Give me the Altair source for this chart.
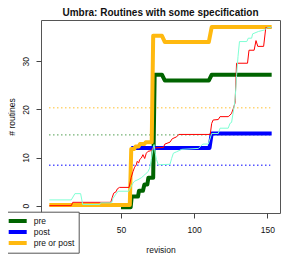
import altair as alt
import pandas as pd

TITLE = "Umbra: Routines with some specification"
SERIES = ["pre", "post", "pre or post"]
COLORS = ["#006400", "#0000FF", "#FFB90F"]

# thick series
pre_x = [50, 56.6, 57.3, 61.6, 62.3, 65, 66, 68, 68.7, 72, 73, 78, 80, 110, 112, 153]
pre_y = [-0.35, -0.35, 1.9, 1.9, 3.1, 3.1, 4.4, 4.4, 5.8, 5.8, 27.2, 27.2, 26, 26, 27.2, 27.2]

post_x = [57, 110.5, 112, 153]
post_y = [12, 12, 15, 15]

both_x = [1, 56, 57, 59, 60, 62, 63, 66, 67, 71, 72, 78, 80, 110, 112, 153]
both_y = [0.15, 0.15, 11.8, 11.8, 12.3, 12.3, 12.8, 12.8, 13.2, 13.2, 35.3, 35.3, 34, 34, 37.1, 37.1]

# thin series
red_x = [1, 16, 17, 43, 44, 45, 46.6, 47.5, 49, 55.5, 57, 58.2, 59.3, 60.5, 61, 62.1, 62.8,
         63.9, 65, 66.2, 67.3, 68.5, 70.3, 72, 79, 80, 83.5, 85, 88, 89.5, 111, 112, 113,
         116.5, 117.7, 123.3, 124.5, 125.6, 126.8, 128, 129, 136.5, 137.5, 141, 142.3,
         143.5, 147.5, 149, 153]
red_y = [0, 0, 0.7, 0.7, 1.7, 2.6, 2.9, 3.5, 3.8, 3.8, 5.9, 7.1, 8.0, 8.5, 9.2, 8.9, 9.6,
         9.9, 10.6, 9.8, 10.9, 11.3, 11.4, 12.0, 12.1, 12.8, 13.2, 13.9, 14.3, 14.8, 14.8, 17.1, 17.8,
         17.9, 18.5, 18.5, 18.8, 19.2, 20.2, 21.4, 29.6, 29.6, 32.3, 32.3, 34.3,
         33.1, 33.1, 37, 37]

aqua_x = [1, 16, 18.5, 22.4, 23.8, 35.5, 36, 43.6, 44.5, 46.5, 48, 55.3, 57, 58.2, 59.3,
          61.6, 63.9, 66.2, 68.5, 69.6, 70.7, 72, 72.6, 73.4, 74.2, 75.5, 83.5, 84.6, 85.8,
          88, 91.5, 103, 104.5, 106, 109.7, 112, 116.5, 117.7, 123.3, 124.5, 125.6, 126.5,
          128, 129, 130, 131, 136, 137, 139.3, 140, 144, 148, 150, 153]
aqua_y = [1.2, 1.2, 2.5, 2.5, 0.25, 0.25, 0.6, 0.6, 1.5, 2.4, 3.0, 3.0, 4.0, 4.7, 5.1,
          5.4, 5.8, 6.4, 7.1, 7.8, 9.6, 12.0, 12.7, 10.9, 9.6, 8.5, 8.6, 9.8, 10.9,
          11.2, 11.7, 11.9, 12.4, 12.8, 12.8, 15, 15, 16.1, 16.1, 17.1, 17.3, 19,
          22, 27, 31, 34.1, 34.1, 34.8, 34.8, 35.7, 36.2, 36.5, 37, 37]

# dotted reference levels
mean_levels = [14.7, 8.4, 20.35]
mean_colors = ["#2e8b2e", "#0000FF", "#FFC030"]
mean_start = [1, 1, 1]
mean_end = [152, 152, 152]

x_ticks = [50, 100, 150]
y_ticks = [0, 10, 20, 30]


def frame(name, xs, ys):
    return pd.DataFrame({"revision": xs, "routines": ys, "series": name})


xscale = alt.Scale(domain=[-4.7, 158.7], nice=False, zero=False)
yscale = alt.Scale(domain=[-1.52, 38.58], nice=False, zero=False)
cscale = alt.Scale(domain=SERIES, range=COLORS)

FONT = "Liberation Sans"

x_axis = alt.Axis(values=x_ticks, tickSize=5, labelPadding=7, labelFontSize=8.5,
                  labelFont=FONT, domain=False, grid=False, title="revision",
                  titleFontSize=8.5, titleFont=FONT, titleFontWeight="normal",
                  titleX=119.5, titleY=39.7, titleBaseline="alphabetic", titleAlign="center",
                  tickColor="#444", labelColor="#111", titleColor="#111")
y_axis = alt.Axis(values=y_ticks, tickSize=5, labelPadding=7.2, labelFontSize=8.5,
                  labelFont=FONT, domain=False, grid=False, labelAngle=270,
                  labelAlign="center", labelBaseline="alphabetic", title="# routines",
                  titleFontSize=8.5, titleFont=FONT, titleFontWeight="normal",
                  titleAngle=270, titleX=-26.7, titleY=96.5, titleAlign="center",
                  titleBaseline="alphabetic", tickColor="#444", labelColor="#111",
                  titleColor="#111")

X = alt.X("revision:Q", scale=xscale, axis=x_axis, title="revision")
Y = alt.Y("routines:Q", scale=yscale, axis=y_axis, title="# routines")

legend = alt.Legend(orient="none", legendX=-38.3, legendY=191.7, direction="vertical",
                    title=None, fillColor="white", strokeColor="#555", padding=4,
                    symbolType="stroke", symbolSize=324, symbolStrokeWidth=4,
                    labelFontSize=8.5, labelFont=FONT, labelColor="#111",
                    labelOffset=5, rowPadding=0, clipHeight=10.5)

means = pd.DataFrame({"series": SERIES, "level": mean_levels, "start": mean_start,
                      "end": mean_end, "col": mean_colors})

rules = alt.Chart(means).mark_rule(strokeDash=[1, 3], strokeWidth=1.3).encode(
    x=alt.X("start:Q", scale=xscale, axis=x_axis, title="revision"),
    x2="end:Q",
    y=alt.Y("level:Q", scale=yscale, axis=y_axis, title="# routines"),
    color=alt.Color("col:N", scale=None),
)


def thick(name, xs, ys):
    return alt.Chart(frame(name, xs, ys)).mark_line(strokeWidth=4, strokeJoin="round").encode(
        x=X, y=Y, color=alt.Color("series:N", scale=cscale, legend=legend)
    )


def thin(name, xs, ys, col):
    return alt.Chart(frame(name, xs, ys)).mark_line(strokeWidth=1, color=col).encode(x=X, y=Y)


chart = alt.layer(
    rules,
    thick("pre", pre_x, pre_y),
    thick("post", post_x, post_y),
    thick("pre or post", both_x, both_y),
    thin("red", red_x, red_y, "#FF0000"),
    thin("aqua", aqua_x, aqua_y, "#7FFFD4"),
).properties(
    width=239,
    height=193,
    padding={"left": 33, "top": 12, "right": 6, "bottom": 41},
    autosize=alt.AutoSizeParams(type="none"),
    background="white",
    title=alt.TitleParams(TITLE, fontSize=10, font=FONT, fontWeight="bold",
                          anchor="middle", baseline="alphabetic", offset=-6, color="#111"),
).configure_view(stroke="#555", strokeWidth=1)

chart.save("out.html", embed_options={"renderer": "svg", "actions": False})
